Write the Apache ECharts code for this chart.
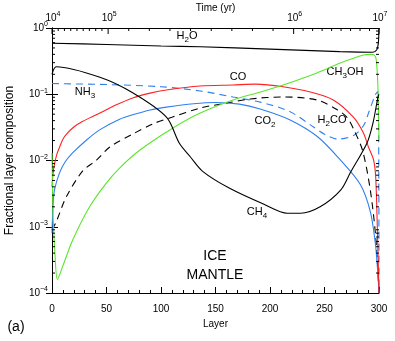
<!DOCTYPE html>
<html>
<head>
<meta charset="utf-8">
<script src="https://cdn.jsdelivr.net/npm/echarts@6/dist/echarts.min.js"></script>
<style>
html, body { margin: 0; padding: 0; background: #fff; }
#chart { width: 395px; height: 341px; }
</style>
</head>
<body>
<div id="chart"></div>
<script>
// data: [layer, fractional composition]
var h2o = [[0, 0.59], [50, 0.565], [100, 0.535], [136, 0.52], [200, 0.48], [264, 0.44], [294, 0.43], [298, 0.47], [299.4, 0.6], [300, 1.0]];
var co = [[0, 0.004], [1, 0.0065], [2.3, 0.0088], [4.5, 0.0125], [7, 0.016], [10, 0.021], [13.3, 0.025], [20, 0.032], [27, 0.038], [34.5, 0.044], [44, 0.052], [58, 0.068], [74, 0.088], [90, 0.104], [105, 0.116], [136, 0.133], [166, 0.138], [187, 0.142], [212, 0.13], [237, 0.108], [258, 0.082], [276.5, 0.045], [285.7, 0.026], [290.3, 0.016], [295, 0.0102], [297, 0.0055], [298.6, 0.0008], [300, 0.0001]];
var co2 = [[0, 0.0008], [1, 0.0022], [2.3, 0.0036], [6.9, 0.0065], [12, 0.0095], [18.9, 0.013], [31.7, 0.0204], [43.7, 0.029], [62, 0.042], [74, 0.049], [90, 0.058], [105, 0.064], [130, 0.072], [150, 0.075], [172, 0.071], [191, 0.06], [218.5, 0.041], [243.4, 0.023], [264.5, 0.0102], [283, 0.0043], [292, 0.0017], [296.6, 0.00057], [298.5, 0.00025], [300, 0.0001]];
var nh3 = [[0, 0.145], [50, 0.14], [100, 0.13], [136, 0.112], [166, 0.091], [191, 0.076], [218, 0.055], [240, 0.032], [250, 0.025], [262, 0.021], [277, 0.024], [286, 0.034], [290, 0.05], [296.6, 0.098], [299, 0.11], [300, 0.0001]];
var h2co = [[0, 0.0009], [4, 0.0012], [13, 0.0028], [28, 0.0069], [41, 0.0102], [53, 0.016], [74, 0.025], [93, 0.036], [110, 0.045], [136, 0.062], [161, 0.074], [182, 0.085], [212, 0.091], [243, 0.082], [262, 0.058], [271, 0.044], [277, 0.029], [285, 0.014], [292, 0.0036], [297, 0.0007], [300, 0.0001]];
var ch3oh = [[0, 0.013], [1, 0.0015], [2.5, 0.00045], [5, 0.00016], [9.7, 0.00025], [19, 0.00063], [34.5, 0.002], [50, 0.0046], [62, 0.0077], [81, 0.0145], [111, 0.031], [136, 0.052], [166, 0.082], [191, 0.108], [212, 0.138], [243, 0.21], [264.5, 0.296], [285.7, 0.39], [292, 0.40], [295.7, 0.39], [297.5, 0.33], [299, 0.13], [300, 0.02]];
var ch4 = [[0, 0.2], [4, 0.26], [44, 0.18], [74, 0.105], [105, 0.045], [117, 0.018], [127, 0.0113], [138.5, 0.0068], [163, 0.0038], [194, 0.0022], [216, 0.0016], [228, 0.0016], [246, 0.002], [265, 0.0036], [274, 0.0067], [289, 0.0184], [294.5, 0.037], [299, 0.09], [300, 0.1]];

// axis ticks
var yMinorTicks = [2e-4, 3e-4, 4e-4, 5e-4, 6e-4, 7e-4, 8e-4, 9e-4,
    2e-3, 3e-3, 4e-3, 5e-3, 6e-3, 7e-3, 8e-3, 9e-3,
    0.02, 0.03, 0.04, 0.05, 0.06, 0.07, 0.08, 0.09,
    0.2, 0.3, 0.4, 0.5, 0.6, 0.7, 0.8, 0.9];
var timeExp = ['4', '5', '6', '7'];
var timeMajorLayer = [0, 51.5, 221.7, 300];
var timeMinorLayer = [5.7, 11.4, 17.2, 22.9, 28.6, 34.3, 40.1, 45.8,
    70.4, 89.3, 108.2, 127.1, 146.1, 165.0, 183.9, 202.8,
    230.4, 239.1, 247.8, 256.5, 265.2, 273.9, 282.6, 291.3];

var FONT = "'Liberation Sans', 'DejaVu Sans', sans-serif";
var rich = {
    n: { fontSize: 10, fontFamily: FONT, color: '#000', lineHeight: 14 },
    sup: { fontSize: 7, fontFamily: FONT, color: '#000', lineHeight: 7, verticalAlign: 'top' },
    m: { fontSize: 11, fontFamily: FONT, color: '#000', lineHeight: 15 },
    sub: { fontSize: 8, fontFamily: FONT, color: '#000', lineHeight: 8, verticalAlign: 'bottom' }
};

function curve(name, data, color, dashed) {
    return {
        name: name, type: 'line', data: data, showSymbol: false, smooth: 0.3,
        lineStyle: { color: color, width: 1.1, type: dashed ? [7, 5] : 'solid' },
        silent: true, z: 3
    };
}

function tickLine(x1, y1, x2, y2) {
    return { type: 'line', shape: { x1: x1, y1: y1, x2: x2, y2: y2 }, style: { stroke: '#000', lineWidth: 1 } };
}

function label(text, x, y, size) {
    return { type: 'text', x: x, y: y, style: { text: text, rich: rich, align: 'center', verticalAlign: 'middle', font: (size || 11) + 'px ' + FONT, fill: '#000' } };
}

var myChart = echarts.init(document.getElementById('chart'));
var option = {
    animation: false,
    grid: { left: 52, right: 16, top: 28, bottom: 48, containLabel: false, outerBoundsMode: 'none' },
    xAxis: [{
        type: 'value', min: 0, max: 300, interval: 50, position: 'bottom',
        name: 'Layer', nameLocation: 'middle', nameGap: 24,
        nameTextStyle: { fontSize: 10, fontFamily: FONT, color: '#000' },
        axisLine: { lineStyle: { color: '#000', width: 1 } },
        axisTick: { inside: true, length: 6, lineStyle: { color: '#000' } },
        minorTick: { show: true, splitNumber: 5, length: 3, lineStyle: { color: '#000' } },
        axisLabel: { fontSize: 10, fontFamily: FONT, color: '#000', margin: 11 },
        splitLine: { show: false }
    }, {
        type: 'value', min: 0, max: 300, position: 'top',
        name: 'Time (yr)', nameLocation: 'middle', nameGap: 15,
        nameTextStyle: { fontSize: 10, fontFamily: FONT, color: '#000' },
        axisLine: { lineStyle: { color: '#000', width: 1 } },
        axisTick: { show: false }, axisLabel: { show: false }, splitLine: { show: false }
    }],
    yAxis: [{
        type: 'log', logBase: 10, min: 1e-4, max: 1, position: 'left',
        name: 'Fractional layer composition', nameLocation: 'middle', nameGap: 36, nameRotate: 90,
        nameTextStyle: { fontSize: 12, fontFamily: FONT, color: '#000' },
        axisLine: { show: true, lineStyle: { color: '#000', width: 1 } },
        axisTick: { inside: true, length: 6, lineStyle: { color: '#000' } },
        axisLabel: {
            margin: 4, rich: rich,
            formatter: function (v) { return '{n|10}{sup|' + Math.round(Math.log10(v)).toString().replace('-', '\u2212') + '}'; }
        },
        splitLine: { show: false }
    }, {
        type: 'log', logBase: 10, min: 1e-4, max: 1, position: 'right',
        axisLine: { show: true, lineStyle: { color: '#000', width: 1 } },
        axisTick: { inside: true, length: 6, lineStyle: { color: '#000' } },
        axisLabel: { show: false }, splitLine: { show: false }
    }],
    series: [
        curve('H2O', h2o, '#000000', false),
        curve('NH3', nh3, '#2f7ff0', true),
        curve('H2CO', h2co, '#000000', true),
        curve('CO2', co2, '#2f7ff0', false),
        curve('CO', co, '#ff2020', false),
        curve('CH3OH', ch3oh, '#5ae62a', false),
        curve('CH4', ch4, '#000000', false),
        {
            type: 'custom', silent: true, clip: false, z: 5,
            data: yMinorTicks.map(function (v) { return [0, v]; }),
            renderItem: function (params, api) {
                var cs = params.coordSys;
                var y = api.coord([0, api.value(1)])[1];
                return { type: 'group', children: [tickLine(cs.x, y, cs.x + 3, y), tickLine(cs.x + cs.width - 3, y, cs.x + cs.width, y)] };
            }
        },
        {
            type: 'custom', silent: true, clip: false, z: 5,
            data: timeMinorLayer.map(function (l) { return [l, 1]; }),
            renderItem: function (params, api) {
                var cs = params.coordSys;
                var x = api.coord([api.value(0), 1])[0];
                return tickLine(x, cs.y, x, cs.y + 3);
            }
        },
        {
            type: 'custom', silent: true, clip: false, z: 5,
            data: timeMajorLayer.map(function (l, i) { return [l, 1, i]; }),
            renderItem: function (params, api) {
                var cs = params.coordSys;
                var x = api.coord([api.value(0), 1])[0];
                return {
                    type: 'group', children: [
                        tickLine(x, cs.y, x, cs.y + 6),
                        { type: 'text', x: x + 1, y: cs.y - 3, style: { text: '{n|10}{sup|' + timeExp[api.value(2)] + '}', rich: rich, align: 'center', verticalAlign: 'bottom' } }
                    ]
                };
            }
        }
    ],
    graphic: { elements: [
        label('{m|H}{sub|2}{m|O}', 187, 36),
        label('{m|CO}', 238, 77),
        label('{m|NH}{sub|3}', 85, 92),
        label('{m|CO}{sub|2}', 265, 121),
        label('{m|H}{sub|2}{m|CO}', 332, 120),
        label('{m|CH}{sub|3}{m|OH}', 345, 72),
        label('{m|CH}{sub|4}', 257, 212),
        label('ICE', 215, 256, 14),
        label('MANTLE', 215, 275, 14),
        label('(a)', 16, 327, 14)
    ] }
};
myChart.setOption(option);
</script>
</body>
</html>
